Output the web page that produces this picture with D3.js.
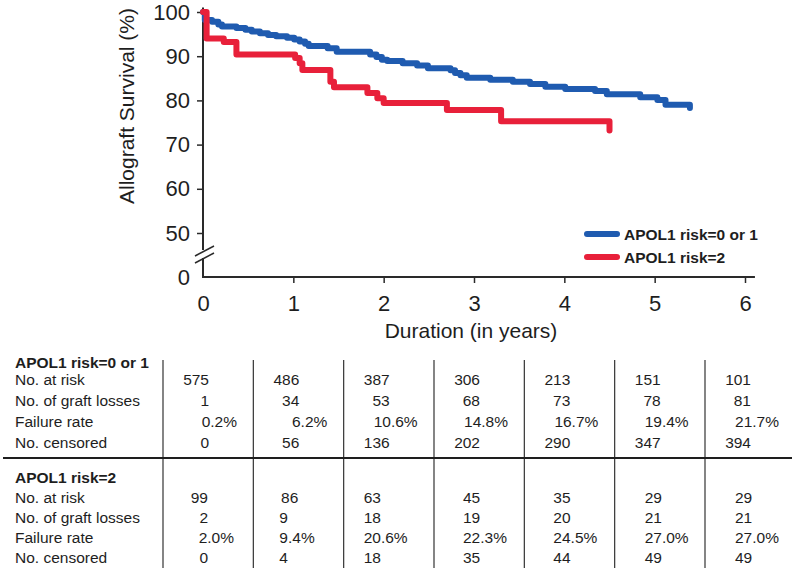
<!DOCTYPE html>
<html>
<head>
<meta charset="utf-8">
<script src="https://cdnjs.cloudflare.com/ajax/libs/d3/7.8.5/d3.min.js"></script>
<style>
  html, body { margin: 0; padding: 0; background: #fff; }
  svg { display: block; font-family: "Liberation Sans", Arial, Helvetica, sans-serif; }
</style>
</head>
<body>
<div id="chart"></div>
<script>
// ---------------- DATA ----------------
const seriesNames = ["APOL1 risk=0 or 1", "APOL1 risk=2"];

// Kaplan-Meier steps (time in years, survival %)
const blueTime = [0, 0.02, 0.10, 0.17, 0.21, 0.37, 0.47, 0.54, 0.63, 0.72, 0.81, 0.93, 1.01, 1.07, 1.13, 1.17, 1.38, 1.48, 1.85, 1.92, 1.98, 2.04, 2.21, 2.37, 2.49, 2.74, 2.79, 2.85, 2.92, 3.18, 3.43, 3.62, 3.79, 4.01, 4.34, 4.47, 4.84, 5.03, 5.12, 5.39];
const blueSurv = [100, 98.2, 97.8, 97.2, 96.7, 96.4, 96.0, 95.6, 95.2, 94.8, 94.5, 94.2, 93.8, 93.3, 92.8, 92.3, 91.8, 91.0, 90.4, 89.8, 89.2, 88.9, 88.4, 87.9, 87.3, 86.8, 86.2, 85.7, 85.1, 84.7, 84.2, 83.7, 83.1, 82.6, 82.1, 81.4, 80.7, 80.1, 79.0, 78.3];

const redTime = [0, 0.04, 0.23, 0.37, 1.02, 1.07, 1.10, 1.41, 1.45, 1.82, 1.93, 2.00, 2.70, 3.30, 4.50];
const redSurv = [100, 94.0, 93.2, 90.4, 89.6, 88.4, 86.9, 84.2, 83.0, 81.7, 80.5, 79.4, 77.8, 75.3, 73.2];

const xTicks = [0, 1, 2, 3, 4, 5, 6];
const yTicks = [0, 50, 60, 70, 80, 90, 100];

const rowLabels = ["No. at risk", "No. of graft losses", "Failure rate", "No. censored"];
const atRisk01   = ["575", "486", "387", "306", "213", "151", "101"];
const losses01   = ["1", "34", "53", "68", "73", "78", "81"];
const failRate01 = ["0.2%", "6.2%", "10.6%", "14.8%", "16.7%", "19.4%", "21.7%"];
const censored01 = ["0", "56", "136", "202", "290", "347", "394"];
const atRisk2    = ["99", "86", "63", "45", "35", "29", "29"];
const losses2    = ["2", "9", "18", "19", "20", "21", "21"];
const failRate2  = ["2.0%", "9.4%", "20.6%", "22.3%", "24.5%", "27.0%", "27.0%"];
const censored2  = ["0", "4", "18", "35", "44", "49", "49"];

// ---------------- CHART ----------------
const W = 800, H = 575;
const blue = "#1f5bb0", red = "#e8203a", ink = "#1e1e1e", axisCol = "#2a2a2a";

const svg = d3.select("#chart").append("svg").attr("width", W).attr("height", H);

const x = d3.scaleLinear().domain([0, 6]).range([203, 745]);
const y = d3.scaleLinear().domain([0, 50, 100]).range([277, 233, 12]);

// x axis
const xAxis = d3.axisBottom(x).tickValues(xTicks).tickSize(6).tickPadding(12).tickFormat(d3.format("d"));
const gx = svg.append("g").attr("transform", `translate(0,${y(0)})`).call(xAxis);
gx.select(".domain").remove();
gx.selectAll(".tick line").attr("stroke", axisCol).attr("stroke-width", 1.5).filter(d => d === 0).remove();
gx.selectAll(".tick text").attr("font-size", 22).attr("fill", ink).attr("font-family", "Liberation Sans, Arial, sans-serif");
svg.append("line").attr("x1", x(0) - 1).attr("x2", x(6.11)).attr("y1", y(0)).attr("y2", y(0))
  .attr("stroke", axisCol).attr("stroke-width", 2);

// y axis
const yAxis = d3.axisLeft(y).tickValues(yTicks).tickSize(6).tickPadding(7).tickFormat(d3.format("d"));
const gy = svg.append("g").attr("transform", `translate(${x(0)},0)`).call(yAxis);
gy.select(".domain").remove();
gy.selectAll(".tick line").attr("stroke", axisCol).attr("stroke-width", 1.5).filter(d => d === 0).remove();
gy.selectAll(".tick text").attr("font-size", 22).attr("fill", ink).attr("font-family", "Liberation Sans, Arial, sans-serif");

// broken y axis line
const bTop = 249, bBot = 259;
svg.append("line").attr("x1", x(0)).attr("x2", x(0)).attr("y1", y(101)).attr("y2", bTop + 1)
  .attr("stroke", axisCol).attr("stroke-width", 2);
svg.append("line").attr("x1", x(0)).attr("x2", x(0)).attr("y1", bBot - 1).attr("y2", y(0) + 1)
  .attr("stroke", axisCol).attr("stroke-width", 2);
[0, 7].forEach(off => {
  svg.append("line")
    .attr("x1", x(0) - 8).attr("y1", 256 + off)
    .attr("x2", x(0) + 11).attr("y2", 246 + off)
    .attr("stroke", axisCol).attr("stroke-width", 1.5);
});

// axis titles
svg.append("text").attr("transform", `translate(134,106) rotate(-90)`)
  .attr("text-anchor", "middle").attr("font-size", 21).attr("fill", ink)
  .text("Allograft Survival (%)");
svg.append("text").attr("x", 471).attr("y", 338).attr("text-anchor", "middle")
  .attr("font-size", 21).attr("fill", ink).text("Duration (in years)");

// curves
const line = d3.line().x(d => x(d[0])).y(d => y(d[1])).curve(d3.curveStepAfter);
const blueData = blueTime.map((t, i) => [t, blueSurv[i]]);
const redData = redTime.map((t, i) => [t, redSurv[i]]);
svg.append("path").datum(blueData).attr("d", line).attr("fill", "none")
  .attr("stroke", blue).attr("stroke-width", 6).attr("stroke-linejoin", "round").attr("stroke-linecap", "round");
svg.append("path").datum(redData).attr("d", line).attr("fill", "none")
  .attr("stroke", red).attr("stroke-width", 6).attr("stroke-linejoin", "round").attr("stroke-linecap", "round");

// legend
const legend = [{name: seriesNames[0], color: blue, yy: 234}, {name: seriesNames[1], color: red, yy: 257}];
legend.forEach(l => {
  svg.append("line").attr("x1", 587).attr("x2", 617).attr("y1", l.yy).attr("y2", l.yy)
    .attr("stroke", l.color).attr("stroke-width", 6).attr("stroke-linecap", "round");
  svg.append("text").attr("x", 624).attr("y", l.yy + 5.5).attr("font-size", 15.5)
    .attr("font-weight", "bold").attr("fill", ink).text(l.name);
});

// ---------------- TABLE ----------------
const groups = [
  {name: seriesNames[0], rows: [atRisk01, losses01, failRate01, censored01], headerY: 368, rowY: [385, 406, 427, 448], top: 360, bottom: 458},
  {name: seriesNames[1], rows: [atRisk2, losses2, failRate2, censored2], headerY: 483, rowY: [503, 523, 543, 563], top: 458, bottom: 568}
];
const sep = c => x(xTicks[c]) - 40;

function cellPos(g, c, r, txt) {
  const isPct = txt.indexOf("%") >= 0;
  if (g === 0) return isPct ? {a: "end", px: sep(c) + 74} : {a: "end", px: sep(c) + 46};
  if (c === 0) return isPct ? {a: "end", px: sep(c) + 71} : {a: "end", px: sep(c) + 45};
  if (c === 1) return r === 0 ? {a: "end", px: sep(c) + 45} : {a: "start", px: sep(c) + 26};
  const off = [20, 29, 29, 30, 30][c - 2];
  return {a: "start", px: sep(c) + off};
}

groups.forEach((grp, gi) => {
  svg.append("text").attr("x", 15).attr("y", grp.headerY).attr("font-size", 15.5)
    .attr("font-weight", "bold").attr("fill", ink).text(grp.name);
  xTicks.forEach((t, c) => {
    svg.append("line").attr("x1", sep(c)).attr("x2", sep(c)).attr("y1", grp.top).attr("y2", grp.bottom)
      .attr("stroke", "#333").attr("stroke-width", 1.2);
  });
  grp.rows.forEach((vals, r) => {
    svg.append("text").attr("x", 15).attr("y", grp.rowY[r]).attr("font-size", 15.5)
      .attr("fill", ink).text(rowLabels[r]);
    vals.forEach((v, c) => {
      const p = cellPos(gi, c, r, v);
      svg.append("text").attr("x", p.px).attr("y", grp.rowY[r]).attr("text-anchor", p.a)
        .attr("font-size", 15.5).attr("fill", ink).text(v);
    });
  });
});
svg.append("line").attr("x1", 3).attr("x2", 792).attr("y1", 458).attr("y2", 458)
  .attr("stroke", ink).attr("stroke-width", 2);
</script>
</body>
</html>
